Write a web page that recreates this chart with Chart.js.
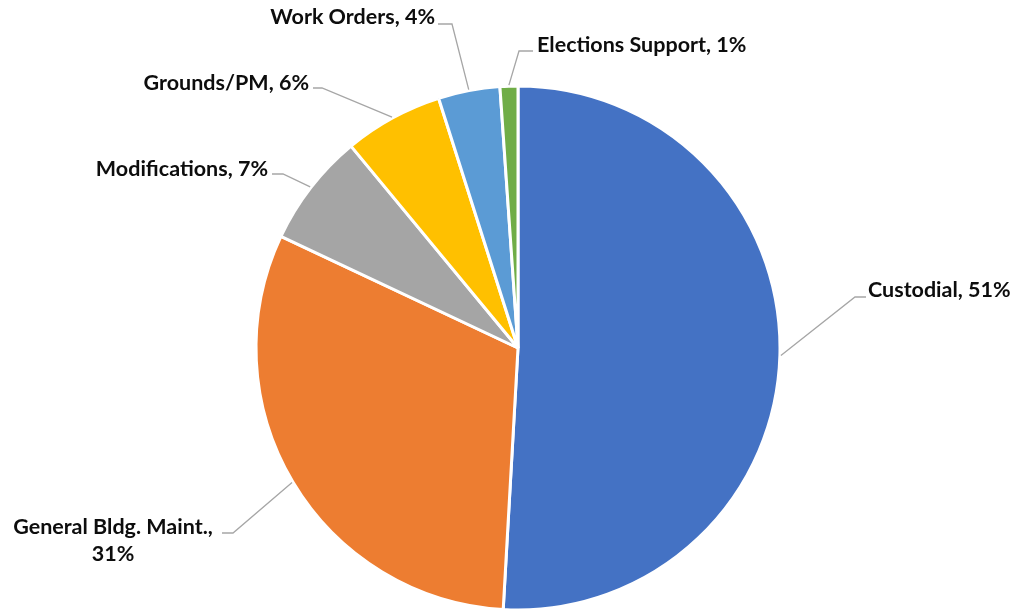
<!DOCTYPE html>
<html>
<head>
<meta charset="utf-8">
<title>Pie</title>
<script src="https://cdn.jsdelivr.net/npm/chart.js@4/dist/chart.umd.min.js"></script>
<style>
  html, body { margin: 0; padding: 0; background: #fff; }
  #wrap { width: 1017px; height: 613px; }
</style>
</head>
<body>
<div id="wrap"><canvas id="pie" width="1017" height="613"></canvas></div>
<script>
/* data (share of total, %) */
var categories = ['Custodial', 'General Bldg. Maint.', 'Modifications', 'Grounds/PM', 'Work Orders', 'Elections Support'];
var values = [50.9, 31.1, 7.0, 6.1, 3.8, 1.1];
var colors = ['#4472C4', '#ED7D31', '#A5A5A5', '#FFC000', '#5B9BD5', '#70AD47'];

/* label placement: elbow of leader, end of leader, text anchor */
var LBL = [
  { elbow: [855, 297], end: [866, 297], tx: 868, ty: 290, align: 'left' },
  { elbow: [233, 533], end: [222, 533], tx: 113, ty: 527, align: 'center', wrap: true },
  { elbow: [283, 174], end: [272, 174], tx: 268, ty: 169, align: 'right' },
  { elbow: [322, 88], end: [313, 88], tx: 309, ty: 83, align: 'right' },
  { elbow: [452, 24], end: [438, 24], tx: 435, ty: 17, align: 'right' },
  { elbow: [519, 51], end: [533, 51], tx: 537, ty: 45, align: 'left' }
];

var total = values.reduce(function (a, b) { return a + b; }, 0);

var leaderLabels = {
  id: 'leaderLabels',
  afterDraw: function (chart) {
    var ctx = chart.ctx;
    var arcs = chart.getDatasetMeta(0).data;
    ctx.save();
    arcs.forEach(function (arc, i) {
      var p = arc.getProps(['x', 'y', 'startAngle', 'endAngle', 'outerRadius'], true);
      var mid = (p.startAngle + p.endAngle) / 2;
      var sx = p.x + Math.cos(mid) * (p.outerRadius + 1);
      var sy = p.y + Math.sin(mid) * (p.outerRadius + 1);
      var L = LBL[i];
      ctx.beginPath();
      ctx.moveTo(sx, sy);
      ctx.lineTo(L.elbow[0], L.elbow[1]);
      ctx.lineTo(L.end[0], L.end[1]);
      ctx.strokeStyle = '#A6A6A6';
      ctx.lineWidth = 1.3;
      ctx.stroke();

      var pct = Math.round(values[i] / total * 100) + '%';
      ctx.fillStyle = '#0D0D0D';
      ctx.font = 'bold 21.5px Lato, "Noto Sans", sans-serif';
      ctx.textBaseline = 'middle';
      ctx.textAlign = L.align;
      if (L.wrap) {
        ctx.fillText(categories[i] + ',', L.tx, L.ty);
        ctx.fillText(pct, L.tx, L.ty + 27);
      } else {
        ctx.fillText(categories[i] + ', ' + pct, L.tx, L.ty);
      }
    });
    ctx.restore();
  }
};

new Chart(document.getElementById('pie').getContext('2d'), {
  type: 'pie',
  data: {
    labels: categories,
    datasets: [{
      data: values,
      backgroundColor: colors,
      borderColor: '#FFFFFF',
      borderWidth: 3
    }]
  },
  options: {
    responsive: false,
    animation: false,
    radius: 262,
    layout: { padding: { left: 19, right: 0, top: 83, bottom: 0 } },
    plugins: { legend: { display: false }, tooltip: { enabled: false } }
  },
  plugins: [leaderLabels]
});
</script>
</body>
</html>
